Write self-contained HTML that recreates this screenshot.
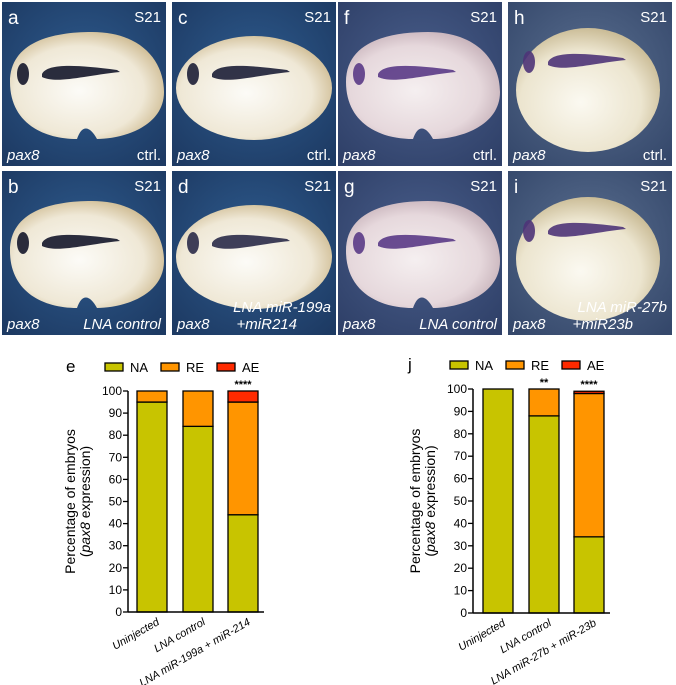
<!DOCTYPE html>
<html><head><meta charset="utf-8"><style>
html,body{margin:0;padding:0;background:#fff;}
svg{display:block;font-family:"Liberation Sans",Arial,sans-serif;}
</style></head><body>
<svg id="fig" width="676" height="685" viewBox="0 0 676 685">
<defs>
<radialGradient id="bgA" cx="50%" cy="45%" r="70%"><stop offset="0" stop-color="#2e5b8e"/><stop offset="1" stop-color="#1d3a63"/></radialGradient>
<radialGradient id="bgF" cx="50%" cy="45%" r="70%"><stop offset="0" stop-color="#4a5f8c"/><stop offset="1" stop-color="#2f4068"/></radialGradient>
<radialGradient id="bgH" cx="50%" cy="45%" r="70%"><stop offset="0" stop-color="#5a6f90"/><stop offset="1" stop-color="#35486b"/></radialGradient>
<radialGradient id="embY" cx="45%" cy="55%" r="60%"><stop offset="0" stop-color="#fcfbf7"/><stop offset="0.7" stop-color="#efe8d6"/><stop offset="1" stop-color="#cdb98f"/></radialGradient>
<radialGradient id="embP" cx="45%" cy="55%" r="60%"><stop offset="0" stop-color="#f5eff0"/><stop offset="0.7" stop-color="#e6d8dc"/><stop offset="1" stop-color="#c5b0b8"/></radialGradient>
<radialGradient id="embC" cx="45%" cy="60%" r="60%"><stop offset="0" stop-color="#fbf9f1"/><stop offset="0.7" stop-color="#ece5cf"/><stop offset="1" stop-color="#cbbd98"/></radialGradient>
</defs>
<g id="photos"></g>
<g id="chartE"></g>
<g id="chartJ"></g>
</svg>
<script>
const NS='http://www.w3.org/2000/svg';
function mk(tag,attrs,parent,text){const e=document.createElementNS(NS,tag);for(const k in attrs)e.setAttribute(k,attrs[k]);if(text!==undefined)e.textContent=text;parent.appendChild(e);return e;}

// chart data
const categoriesE=['Uninjected','LNA control','LNA miR-199a + miR-214'];
const naE=[95,84,44];
const reE=[5,16,51];
const aeE=[0,0,5];
const starsE=['','','****'];
const categoriesJ=['Uninjected','LNA control','LNA miR-27b + miR-23b'];
const naJ=[100,88,34];
const reJ=[0,12,64];
const aeJ=[0,0,1];
const starsJ=['','**','****'];
const yTicks=[0,10,20,30,40,50,60,70,80,90,100];

// photo panels
const panels=[
 {x:2,y:2,l:'a',br:'ctrl.',bg:'bgA',emb:'embY',stain:'#14162a',shape:1},
 {x:2,y:171,l:'b',br:'LNA control',bg:'bgA',emb:'embY',stain:'#14162a',shape:1},
 {x:172,y:2,l:'c',br:'ctrl.',bg:'bgA',emb:'embY',stain:'#1c1e36',shape:2},
 {x:172,y:171,l:'d',br:'LNA miR-199a|+miR214',bg:'bgA',emb:'embY',stain:'#2a2a48',shape:2},
 {x:338,y:2,l:'f',br:'ctrl.',bg:'bgF',emb:'embP',stain:'#5a3a86',shape:1},
 {x:338,y:171,l:'g',br:'LNA control',bg:'bgF',emb:'embP',stain:'#5a3a86',shape:1},
 {x:508,y:2,l:'h',br:'ctrl.',bg:'bgH',emb:'embC',stain:'#4e3478',shape:3},
 {x:508,y:171,l:'i',br:'LNA miR-27b|+miR23b',bg:'bgH',emb:'embC',stain:'#4e3478',shape:3}
];
const ph=document.getElementById('photos');
panels.forEach(p=>{
 const g=mk('g',{transform:`translate(${p.x},${p.y})`},ph);
 
 
 mk('rect',{x:0,y:0,width:164,height:164,fill:`url(#${p.bg})`},g);
 if(p.shape===3) mk('ellipse',{cx:80,cy:88,rx:72,ry:62,fill:`url(#${p.emb})`},g);
 else if(p.shape===2) mk('ellipse',{cx:82,cy:86,rx:78,ry:52,fill:`url(#${p.emb})`},g);
 else mk('path',{d:'M8,80 C8,40 50,30 90,30 C140,30 162,60 162,90 C162,125 120,137 95,137 C88,124 80,122 75,137 C40,137 8,120 8,80 Z',fill:`url(#${p.emb})`},g);
 const sy=p.shape===3?58:70;
 mk('ellipse',{cx:21,cy:sy+2,rx:6,ry:11,fill:p.stain,opacity:0.9},g);
 mk('path',{d:`M40,${sy+2} C45,${sy-8} 70,${sy-8} 115,${sy-2} L118,${sy} C80,${sy+4} 55,${sy+12} 40,${sy+5} Z`,fill:p.stain,opacity:0.9},g);
 const t1=mk('text',{x:6,y:22,'font-size':19,fill:'#fff'},g,p.l);
 
 
 mk('text',{x:159,y:20,'font-size':15,fill:'#fff','text-anchor':'end'},g,'S21');
 mk('text',{x:5,y:158,'font-size':15,fill:'#fff','font-style':'italic'},g,'pax8');
 const parts=p.br.split('|');
 if(parts.length===1){mk('text',{x:159,y:158,'font-size':15,fill:'#fff','text-anchor':'end','font-style':p.br==='ctrl.'?'normal':'italic'},g,parts[0]);}
 else{mk('text',{x:159,y:141,'font-size':15,fill:'#fff','text-anchor':'end','font-style':'italic'},g,parts[0]);
      mk('text',{x:125,y:158,'font-size':15,fill:'#fff','text-anchor':'end','font-style':'italic'},g,parts[1]);}
});

const COL={NA:'#c8c400',RE:'#ff9500',AE:'#ff2a00'};
function drawChart(gid,letter,lx,ly,axisX,y0,y100,barX,barW,cats,na,re,ae,stars,legX,legY){
 const g=document.getElementById(gid);
 const ys=v=>y0-(y0-y100)*v/100;
 const lt=mk('text',{x:lx,y:ly,'font-size':17,fill:'#000'},g,letter);
 
 
 const names=['NA','RE','AE'];
 names.forEach((n,i)=>{
  const lg=mk('g',{},g);
  
  
  const x=legX+i*56;
  mk('rect',{x:x,y:legY-4,width:18,height:8,fill:COL[n],stroke:'#000','stroke-width':1.3},lg);
  mk('text',{x:x+25,y:legY+5,'font-size':13,fill:'#000'},lg,n);
 });
 cats.forEach((c,i)=>{
  const bx=barX[i];
  const segs=[['NA',0,na[i]],['RE',na[i],na[i]+re[i]],['AE',na[i]+re[i],na[i]+re[i]+ae[i]]];
  segs.forEach(s=>{
   if(s[2]-s[1]<=0)return;
   const r=mk('rect',{x:bx,y:ys(s[2]),width:barW,height:ys(s[1])-ys(s[2]),fill:COL[s[0]],stroke:'#000','stroke-width':1.3},g);
   
   
  });
  if(stars[i]){const st=mk('text',{x:bx+barW/2,y:ys(na[i]+re[i]+ae[i])-3,'font-size':11,'font-weight':'bold','text-anchor':'middle',fill:'#000'},g,stars[i]);
   
   }
  const tl=mk('text',{x:bx+barW/2+8,y:y0+12,'font-size':11,'font-style':'italic','text-anchor':'end',fill:'#000',transform:`rotate(-30 ${bx+barW/2+8} ${y0+12})`},g,c);
  
  
 });
 const ya=mk('line',{x1:axisX,y1:y100,x2:axisX,y2:y0,stroke:'#000','stroke-width':1.5},g);
 
 
 const xa=mk('line',{x1:axisX,y1:y0,x2:barX[2]+barW+6,y2:y0,stroke:'#000','stroke-width':1.5},g);
 
 
 yTicks.forEach(t=>{
  mk('line',{x1:axisX-5,y1:ys(t),x2:axisX,y2:ys(t),stroke:'#000','stroke-width':1.3},g);
  const tt=mk('text',{x:axisX-6,y:ys(t)+4,'font-size':12,'text-anchor':'end',fill:'#000'},g,String(t));
  
  
 });
 const cy=(y0+y100)/2, tx=axisX-38;
 const yt=mk('text',{x:tx-15,y:cy,'font-size':14,'text-anchor':'middle',fill:'#000',transform:`rotate(-90 ${tx-15} ${cy})`},g,'Percentage of embryos');
 
 
 const yt2=mk('text',{x:tx,y:cy,'font-size':14,'text-anchor':'middle',fill:'#000',transform:`rotate(-90 ${tx} ${cy})`},g);
 mk('tspan',{},yt2,'(');mk('tspan',{'font-style':'italic'},yt2,'pax8');mk('tspan',{},yt2,' expression)');
}
drawChart('chartE','e',66,372,128,612,391,[137,183,228],30,categoriesE,naE,reE,aeE,starsE,105,367);
drawChart('chartJ','j',408,370,473,613,389,[483,529,574],30,categoriesJ,naJ,reJ,aeJ,starsJ,450,365);
</script>
</body></html>
